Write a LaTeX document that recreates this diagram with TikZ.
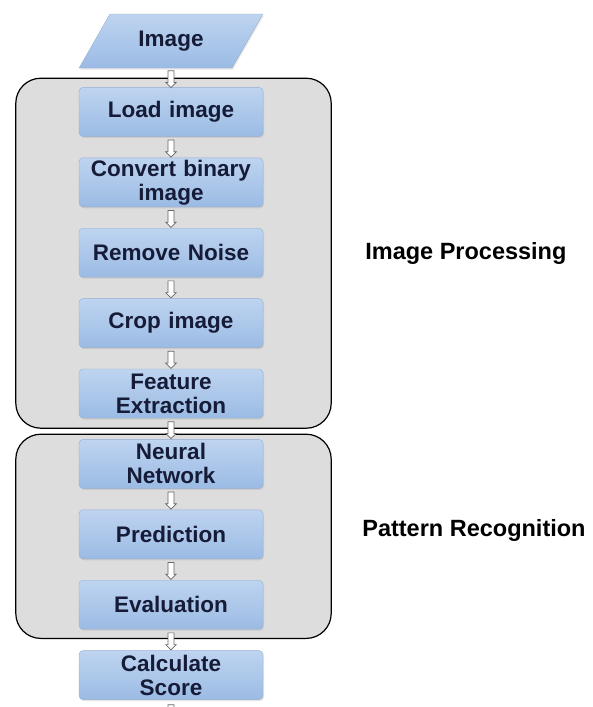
\documentclass[tikz,border=0pt]{standalone}
\usepackage{fontspec}
\setsansfont{Liberation Sans}
\usepackage{tikz}
\usetikzlibrary{shapes}
\usetikzlibrary{shapes.arrows}
\usetikzlibrary{backgrounds}
\usetikzlibrary{positioning}
\usetikzlibrary{fit}
\usetikzlibrary{shadows}

\definecolor{boxtop}{RGB}{190,212,240}
\definecolor{boxbot}{RGB}{155,187,228}
\definecolor{boxline}{RGB}{150,175,210}
\definecolor{navy}{RGB}{22,28,55}
\definecolor{groupfill}{RGB}{221,221,221}

\begin{document}
\begin{tikzpicture}[x=1pt, y=1pt, node distance=21pt,
  stepbox/.style={rectangle, rounded corners=4pt, draw=boxline, top color=boxtop, bottom color=boxbot,
    minimum width=184pt, minimum height=49pt, text width=180pt, align=center, inner sep=0pt,
    text=navy, font=\sffamily\bfseries\fontsize{22.5}{24}\selectfont,
    drop shadow={opacity=0.2, shadow xshift=1pt, shadow yshift=-1.5pt}},
  iobox/.style={trapezium, trapezium left angle=56, trapezium right angle=124, trapezium stretches,
    draw=boxline, top color=boxtop, bottom color=boxbot, minimum width=184pt, minimum height=54pt,
    text=navy, font=\sffamily\bfseries\fontsize{22.5}{24}\selectfont,
    drop shadow={opacity=0.2, shadow xshift=1pt, shadow yshift=-1.5pt}},
  group/.style={rectangle, rounded corners=25pt, draw=black, line width=1.2pt, fill=groupfill},
  grouplabel/.style={font=\sffamily\bfseries\fontsize{23.5}{26}\selectfont, text=black},
  harrow/.style={single arrow, shape border rotate=270, draw=black!60, fill=white, line width=0.7pt,
    minimum height=17pt, minimum width=10pt, single arrow head extend=2.3pt, inner sep=2.6pt},
  flow/.style={draw=none}]
  \useasboundingbox (0,0) rectangle (593,-707);

  \node[iobox] (img) at (171,-41) {Image};
  \node[stepbox] (load) [below = 19pt of img] {Load image};
  \node[stepbox] (conv) [below = of load] {Convert binary\\image};
  \node[stepbox] (noise) [below = of conv] {Remove Noise};
  \node[stepbox] (crop) [below = of noise] {Crop image};
  \node[stepbox] (feat) [below = of crop] {Feature\\Extraction};
  \node[stepbox] (nn) [below = of feat] {Neural\\Network};
  \node[stepbox] (pred) [below = of nn] {Prediction};
  \node[stepbox] (eval) [below = of pred] {Evaluation};
  \node[stepbox] (score) [below = of eval] {Calculate\\Score};
  \coordinate[below = 24pt of score] (tail);

  \begin{scope}[on background layer]
    \node[group, fit=(load)(feat), inner xsep=65.5pt, inner ysep=9.5pt, xshift=2.5pt, yshift=-0.5pt] (improc) {};
    \node[group, fit=(nn)(eval), inner xsep=65.5pt, inner ysep=7pt, xshift=2.5pt, yshift=-2pt] (patrec) {};
  \end{scope}

  \node[grouplabel] (improclbl) [right = 30pt of improc] {Image Processing};
  \node[grouplabel] (patreclbl) [right = 27pt of patrec, yshift=6pt] {Pattern Recognition};

  \path
    (img) edge[flow] node[harrow] {} (load)
    (load) edge[flow] node[harrow] {} (conv)
    (conv) edge[flow] node[harrow] {} (noise)
    (noise) edge[flow] node[harrow] {} (crop)
    (crop) edge[flow] node[harrow] {} (feat)
    (feat) edge[flow] node[harrow] {} (nn)
    (nn) edge[flow] node[harrow] {} (pred)
    (pred) edge[flow] node[harrow] {} (eval)
    (eval) edge[flow] node[harrow] {} (score)
    (score) edge[flow] node[harrow] {} (tail);
\end{tikzpicture}
\end{document}
